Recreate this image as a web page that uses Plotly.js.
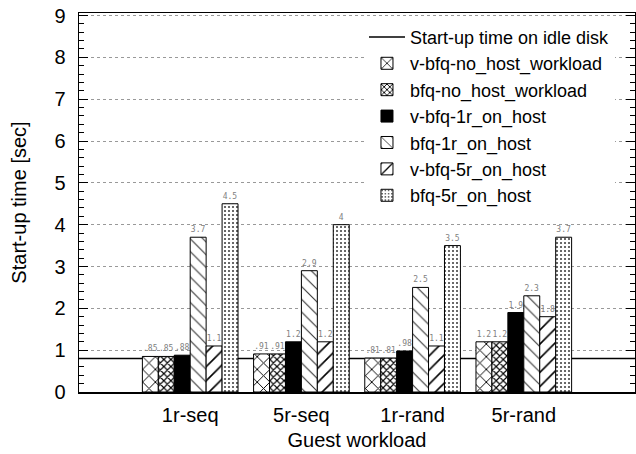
<!DOCTYPE html>
<html>
<head>
<meta charset="utf-8">
<script src="https://cdn.plot.ly/plotly-3.0.1.min.js"></script>
<style>html,body{margin:0;padding:0;background:#fff;}#chart{width:636px;height:454px;}</style>
</head>
<body>
<div id="chart"></div>
<script>
const categories = ["1r-seq", "5r-seq", "1r-rand", "5r-rand"];
const idleLabel = "Start-up time on idle disk";
const idleValue = [0.8];
const seriesNames = ["v-bfq-no_host_workload", "bfq-no_host_workload", "v-bfq-1r_on_host", "bfq-1r_on_host", "v-bfq-5r_on_host", "bfq-5r_on_host"];
const vbfqNoHost = [0.85, 0.91, 0.81, 1.2];
const bfqNoHost  = [0.85, 0.91, 0.81, 1.2];
const vbfq1r     = [0.88, 1.2, 0.98, 1.9];
const bfq1r      = [3.7, 2.9, 2.5, 2.3];
const vbfq5r     = [1.1, 1.2, 1.1, 1.8];
const bfq5r      = [4.5, 4, 3.5, 3.7];
const yTicks = [0,1,2,3,4,5,6,7,8,9];
const xTitle = "Guest workload";
const yTitle = "Start-up time [sec]";

const seriesValues = [vbfqNoHost, bfqNoHost, vbfq1r, bfq1r, vbfq5r, bfq5r];
const styles = [
  {color:'white', pattern:{shape:'x', size:9, solidity:0.2, fgcolor:'black', bgcolor:'white', fillmode:'replace'}},
  {color:'white', pattern:{shape:'x', size:5, solidity:0.4, fgcolor:'black', bgcolor:'white', fillmode:'replace'}},
  {color:'black'},
  {color:'white', pattern:{shape:'\\', size:9, solidity:0.12, fgcolor:'#333', bgcolor:'white', fillmode:'replace'}},
  {color:'white', pattern:{shape:'/', size:10, solidity:0.16, fgcolor:'black', bgcolor:'white', fillmode:'replace'}},
  {color:'white', pattern:{shape:'.', size:4, solidity:0.22, fgcolor:'#444', bgcolor:'white', fillmode:'replace'}}
];
function fmt(v){ let s = String(v); if (v < 1) s = s.replace(/^0/, ''); return s; }

const font = 'Liberation Sans, Arial, sans-serif';
const fs = 20;
const traces = [{
  type:'scatter', mode:'lines', name: idleLabel, x:[null], y:[null],
  line:{color:'black', width:1.5}, hoverinfo:'skip'
}];
seriesValues.forEach((vals, i) => {
  traces.push({
    type:'bar', name: seriesNames[i], x: categories, y: vals,
    text: vals.map(fmt), textposition:'outside', constraintext:'none', cliponaxis:false,
    textfont:{family:'DejaVu Sans Mono, monospace', size:8, color:'#808080'},
    marker: Object.assign({line:{color:'black', width:1}}, styles[i])
  });
});

const layout = {
  width:636, height:454,
  margin:{l:79, r:1, t:13, b:62},
  paper_bgcolor:'white', plot_bgcolor:'white',
  font:{family:font, size:fs, color:'black'},
  barmode:'group', bargap:0.14, bargroupgap:0,
  showlegend:true,
  legend:{x:0.964, xanchor:'right', y:0.985, yanchor:'top', bgcolor:'white',
          font:{family:font, size:18, color:'black'}, itemwidth:36},
  xaxis:{type:'category', categoryorder:'array', categoryarray:categories, range:[-1,4],
         showline:true, linecolor:'black', linewidth:1.5, mirror:true, ticks:'',
         showgrid:false, zeroline:false, ticklabelstandoff:4,
         tickfont:{family:font, size:fs, color:'black'},
         title:{text:xTitle, font:{family:font, size:fs, color:'black'}, standoff:8}},
  yaxis:{range:[0,9.06], tickvals:yTicks, ticktext:yTicks.map(String),
         showline:true, linecolor:'black', linewidth:1.5, mirror:'ticks',
         ticks:'inside', ticklen:9, tickcolor:'black', tickwidth:1,
         minor:{ticks:'inside', dtick:0.2, ticklen:5, tickcolor:'black', tickwidth:1, showgrid:false},
         showgrid:true, gridcolor:'#999', griddash:'dot', gridwidth:1, zeroline:false,
         ticklabelstandoff:8,
         tickfont:{family:font, size:fs, color:'black'},
         title:{text:yTitle, font:{family:font, size:fs, color:'black'}, standoff:22}},
  shapes:[{type:'line', xref:'paper', x0:0, x1:1, yref:'y', y0:idleValue[0], y1:idleValue[0],
           line:{color:'black', width:1.5}, layer:'between'}]
};
Plotly.newPlot('chart', traces, layout, {displayModeBar:false, staticPlot:true});
</script>
</body>
</html>
